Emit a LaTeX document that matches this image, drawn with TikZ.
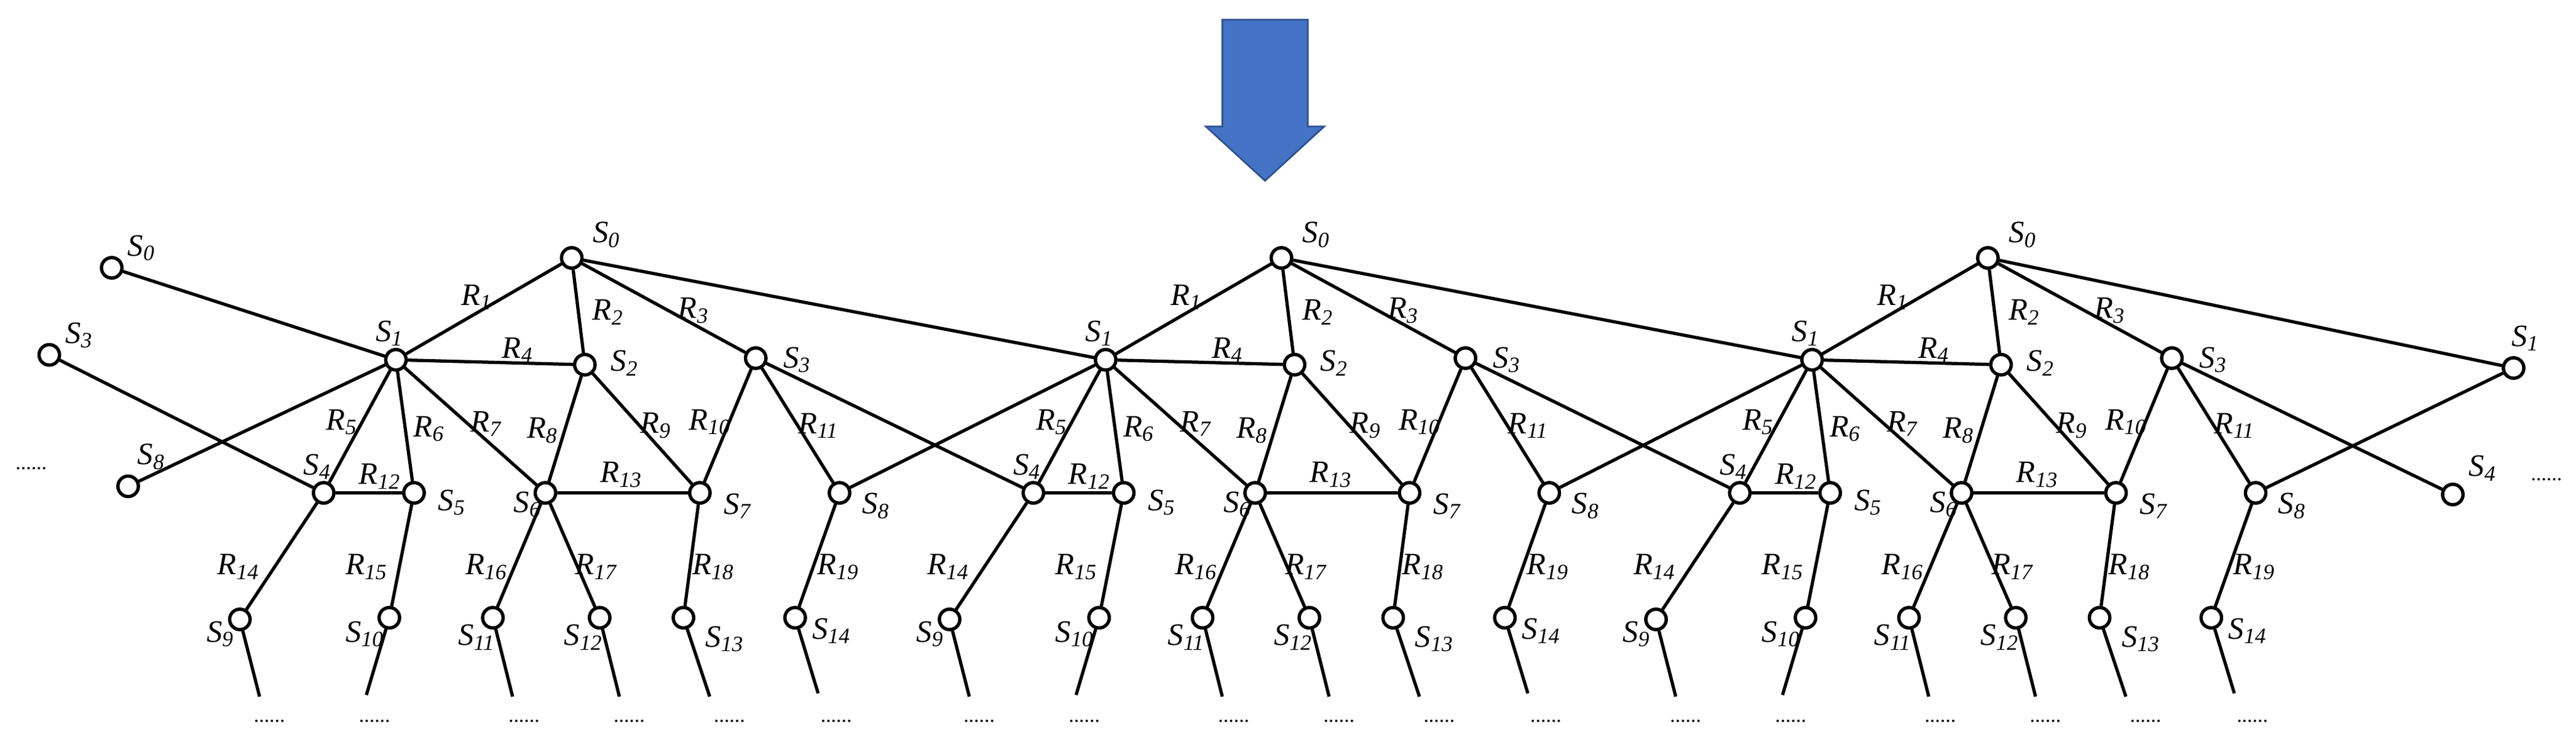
\documentclass[tikz,border=0pt]{standalone}
\usepackage{fontspec}
\setmainfont{Liberation Serif}
\newcommand\lb[2]{\textit{#1}\textsubscript{\textit{#2}}}
\begin{document}
\begin{tikzpicture}[x=0.05cm,y=-0.05cm,
  st/.style={circle,draw,fill=white,line width=2.8pt,inner sep=0pt,minimum size=0.62cm},
  ln/.style={line width=2.8pt},
  tx/.style={font=\fontsize{27}{30}\selectfont,inner sep=0pt},
  dt/.style={font=\fontsize{18}{20}\selectfont,inner sep=0pt}]
\useasboundingbox (0,0) rectangle (1568,449.5);
% arrow
\path[fill={rgb,255:red,68;green,114;blue,196},draw={rgb,255:red,47;green,82;blue,143},line width=1.5pt]
  (744,12) -- (796,12) -- (796,77) -- (806,77) -- (770,110) -- (734,77) -- (744,77) -- cycle;
\foreach \u/\d in {1/0,2/432,3/862}{
  \node[st] (u\u s0) at (348+\d,157) {};
  \node[st] (u\u s1) at (241+\d,219) {};
  \node[st] (u\u s2) at (356+\d,222) {};
  \node[st] (u\u s3) at (460+\d,218) {};
  \node[st] (u\u s4) at (197+\d,300) {};
  \node[st] (u\u s5) at (252+\d,300) {};
  \node[st] (u\u s6) at (332+\d,300) {};
  \node[st] (u\u s7) at (426+\d,300) {};
  \node[st] (u\u s8) at (511+\d,300) {};
  \node[st] (u\u s9) at (146+\d,377) {};
  \node[st] (u\u s10) at (237+\d,376) {};
  \node[st] (u\u s11) at (300+\d,376) {};
  \node[st] (u\u s12) at (365+\d,376) {};
  \node[st] (u\u s13) at (416+\d,376) {};
  \node[st] (u\u s14) at (484+\d,376) {};
  \coordinate (u\u e9) at (158+\d,424);
  \coordinate (u\u e10) at (223+\d,423);
  \coordinate (u\u e11) at (312+\d,424);
  \coordinate (u\u e12) at (377+\d,424);
  \coordinate (u\u e13) at (432+\d,424);
  \coordinate (u\u e14) at (498+\d,422);
  \draw[ln] (u\u s0)--(u\u s1) (u\u s0)--(u\u s2) (u\u s0)--(u\u s3) (u\u s1)--(u\u s2)
    (u\u s1)--(u\u s4) (u\u s1)--(u\u s5) (u\u s1)--(u\u s6) (u\u s2)--(u\u s6) (u\u s2)--(u\u s7)
    (u\u s3)--(u\u s7) (u\u s3)--(u\u s8) (u\u s4)--(u\u s5) (u\u s6)--(u\u s7)
    (u\u s4)--(u\u s9) (u\u s5)--(u\u s10) (u\u s6)--(u\u s11) (u\u s6)--(u\u s12)
    (u\u s7)--(u\u s13) (u\u s8)--(u\u s14)
    (u\u s9)--(u\u e9) (u\u s10)--(u\u e10) (u\u s11)--(u\u e11) (u\u s12)--(u\u e12)
    (u\u s13)--(u\u e13) (u\u s14)--(u\u e14);
  \foreach \k/\xx in {9/164,10/228,11/319,12/383,13/444,14/509}
    \node[dt] (u\u d\k) at (\xx+\d,439) {......};
  \node[tx] (u\u r1) at (290+\d,181) {\lb{R}{1}};
  \node[tx] (u\u r2) at (370+\d,190) {\lb{R}{2}};
  \node[tx] (u\u r3) at (422+\d,189) {\lb{R}{3}};
  \node[tx] (u\u r4) at (315+\d,213) {\lb{R}{4}};
  \node[tx] (u\u r5) at (208+\d,257) {\lb{R}{5}};
  \node[tx] (u\u r6) at (261+\d,261) {\lb{R}{6}};
  \node[tx] (u\u r7) at (296+\d,258) {\lb{R}{7}};
  \node[tx] (u\u r8) at (330+\d,262) {\lb{R}{8}};
  \node[tx] (u\u r9) at (399+\d,259) {\lb{R}{9}};
  \node[tx] (u\u r10) at (432+\d,257) {\lb{R}{10}};
  \node[tx] (u\u r11) at (498+\d,259) {\lb{R}{11}};
  \node[tx] (u\u r12) at (231+\d,290) {\lb{R}{12}};
  \node[tx] (u\u r13) at (378+\d,289) {\lb{R}{13}};
  \node[tx] (u\u r14) at (145+\d,345) {\lb{R}{14}};
  \node[tx] (u\u r15) at (223+\d,345) {\lb{R}{15}};
  \node[tx] (u\u r16) at (296+\d,345) {\lb{R}{16}};
  \node[tx] (u\u r17) at (363+\d,345) {\lb{R}{17}};
  \node[tx] (u\u r18) at (434+\d,345) {\lb{R}{18}};
  \node[tx] (u\u r19) at (510+\d,345) {\lb{R}{19}};
  \node[tx] (u\u l0) at (369+\d,143) {\lb{S}{0}};
  \node[tx] (u\u l1) at (237+\d,203) {\lb{S}{1}};
  \node[tx] (u\u l2) at (380+\d,221) {\lb{S}{2}};
  \node[tx] (u\u l3) at (485+\d,219) {\lb{S}{3}};
  \node[tx] (u\u l4) at (193+\d,284) {\lb{S}{4}};
  \node[tx] (u\u l5) at (275+\d,306) {\lb{S}{5}};
  \node[tx] (u\u l6) at (321+\d,307) {\lb{S}{6}};
  \node[tx] (u\u l7) at (449+\d,308) {\lb{S}{7}};
  \node[tx] (u\u l8) at (533+\d,308) {\lb{S}{8}};
  \node[tx] (u\u l9) at (134+\d,386) {\lb{S}{9}};
  \node[tx] (u\u l10) at (222+\d,386) {\lb{S}{10}};
  \node[tx] (u\u l11) at (290+\d,388) {\lb{S}{11}};
  \node[tx] (u\u l12) at (355+\d,388) {\lb{S}{12}};
  \node[tx] (u\u l13) at (441+\d,389) {\lb{S}{13}};
  \node[tx] (u\u l14) at (506+\d,384) {\lb{S}{14}};
}
% side nodes
\node[st] (a0) at (68,163) {};
\node[st] (a3) at (30,216) {};
\node[st] (a8) at (78,296) {};
\node[st] (b1) at (1530,224) {};
\node[st] (b4) at (1493,301) {};
\node[tx] at (86,151) {\lb{S}{0}};
\node[tx] at (48,204) {\lb{S}{3}};
\node[tx] at (92,278) {\lb{S}{8}};
\node[tx] at (1537,206) {\lb{S}{1}};
\node[tx] at (1511,285) {\lb{S}{4}};
\node[dt] at (19,285) {......};
\node[dt] at (1550,292) {......};
\draw[ln] (a0)--(u1s1) (a3)--(u1s4) (a8)--(u1s1)
  (u1s0)--(u2s1) (u1s3)--(u2s4) (u2s1)--(u1s8)
  (u2s0)--(u3s1) (u2s3)--(u3s4) (u3s1)--(u2s8)
  (u3s0)--(b1) (u3s3)--(b4) (u3s8)--(b1);
% redraw circles on top
\foreach \u/\d in {1/0,2/432,3/862}{
  \foreach \k in {0,...,14} \node[st] at (u\u s\k) {};
}
\foreach \n in {a0,a3,a8,b1,b4} \node[st] at (\n) {};
\end{tikzpicture}
\end{document}
